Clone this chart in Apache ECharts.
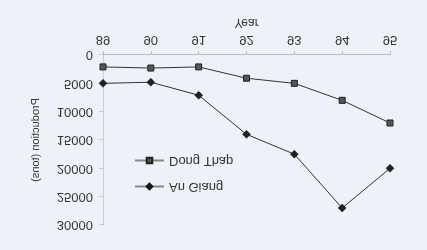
<!DOCTYPE html>
<html>
<head>
<meta charset="utf-8">
<script src="https://cdn.jsdelivr.net/npm/echarts@6/dist/echarts.min.js"></script>
<style>
html,body{margin:0;padding:0;background:#eef1f7;}
#wrap{width:427px;height:250px;transform:scaleY(-1);}
#chart{width:427px;height:250px;}
</style>
</head>
<body>
<div id="wrap"><div id="chart"></div></div>
<script>
var years = ['89', '90', '91', '92', '93', '94', '95'];
var dongThap = [2100, 2300, 2100, 4100, 5000, 8000, 12000];
var anGiang = [5000, 4800, 7100, 14000, 17500, 27000, 20000];
var yTicks = [0, 5000, 10000, 15000, 20000, 25000, 30000];

var chart = echarts.init(document.getElementById('chart'), null, {renderer: 'canvas'});
var font = 'Liberation Sans, Arial, sans-serif';
chart.setOption({
  backgroundColor: '#eef1f7',
  animation: false,
  grid: {left: 103, right: 37, top: 25, bottom: 55},
  legend: {
    orient: 'vertical',
    left: 134, top: 57, padding: 0,
    itemWidth: 29, itemHeight: 7, itemGap: 13,
    textStyle: {fontFamily: font, fontSize: 13, color: '#333', padding: [0, 0, 0, 0]},
    data: [
      {name: 'An Giang', itemStyle: {color: '#222'}, lineStyle: {color: '#888'}},
      {name: 'Dong Thap', itemStyle: {color: '#555'}, lineStyle: {color: '#888'}}
    ]
  },
  xAxis: {
    type: 'category',
    data: years,
    boundaryGap: false,
    name: 'Year',
    nameLocation: 'middle',
    nameGap: 27,
    nameTextStyle: {fontFamily: font, fontSize: 12, color: '#333'},
    axisLine: {lineStyle: {color: '#bbb'}},
    axisTick: {lineStyle: {color: '#bbb'}, length: 4},
    axisLabel: {fontFamily: font, fontSize: 13, color: '#333', margin: 9}
  },
  yAxis: {
    type: 'value',
    min: yTicks[0], max: yTicks[yTicks.length - 1], interval: yTicks[1] - yTicks[0],
    name: 'Production (tons)',
    nameLocation: 'middle',
    nameGap: 62,
    nameTextStyle: {fontFamily: font, fontSize: 11, color: '#333'},
    axisLine: {show: true, lineStyle: {color: '#ccc'}},
    axisTick: {show: true, lineStyle: {color: '#ccc'}, length: 4},
    splitLine: {show: false},
    axisLabel: {fontFamily: font, fontSize: 13, color: '#333', margin: 10,
      formatter: function (v) { return String(v); }}
  },
  series: [
    {
      name: 'Dong Thap', type: 'line', data: dongThap,
      symbol: 'rect', symbolSize: 6,
      lineStyle: {color: '#333', width: 1},
      itemStyle: {color: '#555', borderColor: '#222', borderWidth: 1}
    },
    {
      name: 'An Giang', type: 'line', data: anGiang,
      symbol: 'diamond', symbolSize: 8,
      lineStyle: {color: '#333', width: 1},
      itemStyle: {color: '#222', borderColor: '#111', borderWidth: 0.5}
    }
  ]
});
</script>
</body>
</html>
